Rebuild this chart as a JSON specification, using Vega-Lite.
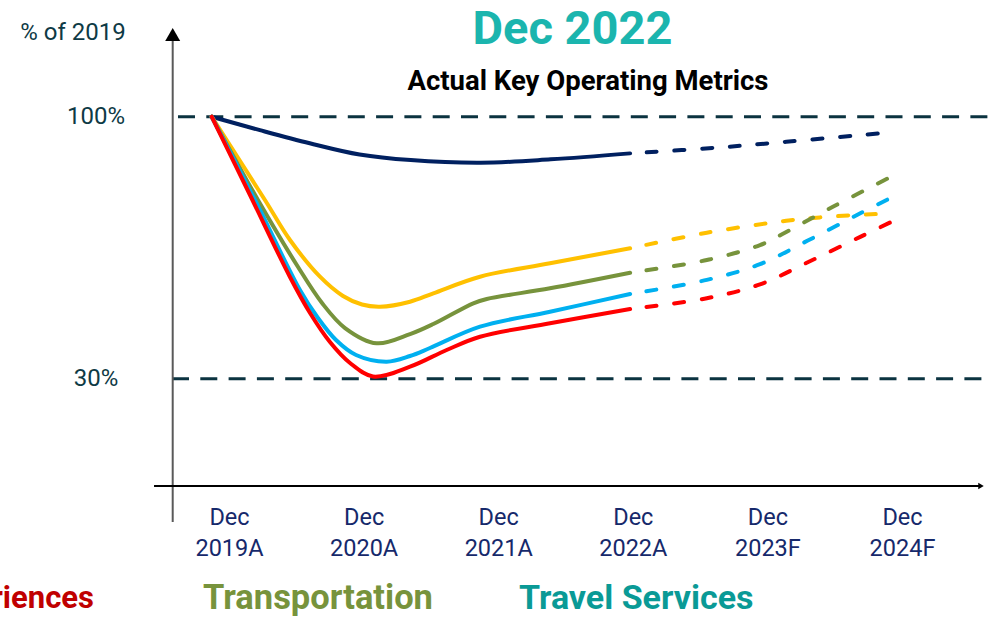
{
  "$schema": "https://vega.github.io/schema/vega-lite/v6.json",
  "width": 813,
  "height": 456,
  "autosize": {"type": "none"},
  "padding": {"left": 172, "top": 30, "right": 5, "bottom": 133},
  "config": {"view": {"stroke": null}, "font": "Roboto"},
  "datasets": {
    "refs": [
      {"x": 2018.621, "xe": 2024.66, "v": 100},
      {"x": 2018.5765, "xe": 2024.66, "v": 30}
    ],
    "yaxis": [{"x": 2018.5817, "v": 120.22, "ve": -8.29}],
    "xaxis": [{"x": 2018.443, "xe": 2024.572, "v": 1.333}],
    "uparrow": [{"x": 2018.5817, "v": 121.96}],
    "rightarrow": [{"x": 2024.587, "v": 1.333}],
    "lines": [
      {"series": "Metric A", "kind": "actual", "x": 2018.871, "v": 100},
      {"series": "Metric A", "kind": "actual", "x": 2019.23, "v": 96.4},
      {"series": "Metric A", "kind": "actual", "x": 2019.6, "v": 92.9},
      {"series": "Metric A", "kind": "actual", "x": 2019.97, "v": 89.9},
      {"series": "Metric A", "kind": "actual", "x": 2020.35, "v": 88.4},
      {"series": "Metric A", "kind": "actual", "x": 2020.87, "v": 87.7},
      {"series": "Metric A", "kind": "actual", "x": 2021.39, "v": 88.6},
      {"series": "Metric A", "kind": "actual", "x": 2021.98, "v": 90.2},
      {"series": "Metric A", "kind": "forecast", "x": 2021.98, "v": 90.2},
      {"series": "Metric A", "kind": "forecast", "x": 2022.65, "v": 91.8},
      {"series": "Metric A", "kind": "forecast", "x": 2023.14, "v": 93.3},
      {"series": "Metric A", "kind": "forecast", "x": 2023.82, "v": 95.5},

      {"series": "Metric B", "kind": "actual", "x": 2018.871, "v": 100},
      {"series": "Metric B", "kind": "actual", "x": 2019.267, "v": 77.74},
      {"series": "Metric B", "kind": "actual", "x": 2019.453, "v": 67.06},
      {"series": "Metric B", "kind": "actual", "x": 2019.676, "v": 57.25},
      {"series": "Metric B", "kind": "actual", "x": 2019.847, "v": 52.1},
      {"series": "Metric B", "kind": "actual", "x": 2019.988, "v": 49.82},
      {"series": "Metric B", "kind": "actual", "x": 2020.122, "v": 49.24},
      {"series": "Metric B", "kind": "actual", "x": 2020.345, "v": 50.57},
      {"series": "Metric B", "kind": "actual", "x": 2020.518, "v": 52.82},
      {"series": "Metric B", "kind": "actual", "x": 2020.865, "v": 57.25},
      {"series": "Metric B", "kind": "actual", "x": 2021.385, "v": 60.83},
      {"series": "Metric B", "kind": "actual", "x": 2021.98, "v": 64.84},
      {"series": "Metric B", "kind": "forecast", "x": 2021.98, "v": 64.84},
      {"series": "Metric B", "kind": "forecast", "x": 2022.55, "v": 69.0},
      {"series": "Metric B", "kind": "forecast", "x": 2023.14, "v": 72.2},
      {"series": "Metric B", "kind": "forecast", "x": 2023.39, "v": 73.1},
      {"series": "Metric B", "kind": "forecast", "x": 2023.64, "v": 73.7},
      {"series": "Metric B", "kind": "forecast", "x": 2023.82, "v": 74.0},

      {"series": "Transportation", "kind": "actual", "x": 2018.871, "v": 100},
      {"series": "Transportation", "kind": "actual", "x": 2019.215, "v": 77.74},
      {"series": "Transportation", "kind": "actual", "x": 2019.513, "v": 59.84},
      {"series": "Transportation", "kind": "actual", "x": 2019.691, "v": 50.22},
      {"series": "Transportation", "kind": "actual", "x": 2019.862, "v": 43.54},
      {"series": "Transportation", "kind": "actual", "x": 2020.097, "v": 39.46},
      {"series": "Transportation", "kind": "actual", "x": 2020.345, "v": 41.9},
      {"series": "Transportation", "kind": "actual", "x": 2020.518, "v": 44.6},
      {"series": "Transportation", "kind": "actual", "x": 2020.815, "v": 50.15},
      {"series": "Transportation", "kind": "actual", "x": 2020.915, "v": 51.29},
      {"series": "Transportation", "kind": "actual", "x": 2021.385, "v": 54.15},
      {"series": "Transportation", "kind": "actual", "x": 2021.98, "v": 58.32},
      {"series": "Transportation", "kind": "forecast", "x": 2021.98, "v": 58.32},
      {"series": "Transportation", "kind": "forecast", "x": 2022.55, "v": 61.7},
      {"series": "Transportation", "kind": "forecast", "x": 2022.945, "v": 65.7},
      {"series": "Transportation", "kind": "forecast", "x": 2023.13, "v": 69.0},
      {"series": "Transportation", "kind": "forecast", "x": 2023.49, "v": 76.0},
      {"series": "Transportation", "kind": "forecast", "x": 2023.91, "v": 83.8},

      {"series": "Metric C", "kind": "actual", "x": 2018.871, "v": 100},
      {"series": "Metric C", "kind": "actual", "x": 2019.193, "v": 77.74},
      {"series": "Metric C", "kind": "actual", "x": 2019.527, "v": 53.7},
      {"series": "Metric C", "kind": "actual", "x": 2019.661, "v": 46.22},
      {"series": "Metric C", "kind": "actual", "x": 2019.795, "v": 40.34},
      {"series": "Metric C", "kind": "actual", "x": 2019.944, "v": 36.33},
      {"series": "Metric C", "kind": "actual", "x": 2020.172, "v": 34.54},
      {"series": "Metric C", "kind": "actual", "x": 2020.345, "v": 36.06},
      {"series": "Metric C", "kind": "actual", "x": 2020.493, "v": 38.2},
      {"series": "Metric C", "kind": "actual", "x": 2020.865, "v": 43.89},
      {"series": "Metric C", "kind": "actual", "x": 2021.385, "v": 47.9},
      {"series": "Metric C", "kind": "actual", "x": 2021.98, "v": 52.63},
      {"series": "Metric C", "kind": "forecast", "x": 2021.98, "v": 52.63},
      {"series": "Metric C", "kind": "forecast", "x": 2022.55, "v": 56.4},
      {"series": "Metric C", "kind": "forecast", "x": 2022.945, "v": 60.6},
      {"series": "Metric C", "kind": "forecast", "x": 2023.3, "v": 66.9},
      {"series": "Metric C", "kind": "forecast", "x": 2023.69, "v": 74.2},
      {"series": "Metric C", "kind": "forecast", "x": 2023.91, "v": 78.2},

      {"series": "Experiences", "kind": "actual", "x": 2018.871, "v": 100},
      {"series": "Experiences", "kind": "actual", "x": 2019.156, "v": 79.08},
      {"series": "Experiences", "kind": "actual", "x": 2019.453, "v": 57.18},
      {"series": "Experiences", "kind": "actual", "x": 2019.602, "v": 47.56},
      {"series": "Experiences", "kind": "actual", "x": 2019.75, "v": 39.81},
      {"series": "Experiences", "kind": "actual", "x": 2019.899, "v": 34.2},
      {"series": "Experiences", "kind": "actual", "x": 2020.07, "v": 30.59},
      {"series": "Experiences", "kind": "actual", "x": 2020.345, "v": 33.21},
      {"series": "Experiences", "kind": "actual", "x": 2020.617, "v": 37.67},
      {"series": "Experiences", "kind": "actual", "x": 2020.865, "v": 41.22},
      {"series": "Experiences", "kind": "actual", "x": 2021.385, "v": 44.8},
      {"series": "Experiences", "kind": "actual", "x": 2021.98, "v": 48.62},
      {"series": "Experiences", "kind": "forecast", "x": 2021.98, "v": 48.62},
      {"series": "Experiences", "kind": "forecast", "x": 2022.55, "v": 51.5},
      {"series": "Experiences", "kind": "forecast", "x": 2022.945, "v": 55.2},
      {"series": "Experiences", "kind": "forecast", "x": 2023.3, "v": 61.1},
      {"series": "Experiences", "kind": "forecast", "x": 2023.69, "v": 67.9},
      {"series": "Experiences", "kind": "forecast", "x": 2023.91, "v": 71.7}
    ],
    "texts": [
      {"role": "ylabel", "x": 2017.841, "v": 122.28, "text": "% of 2019"},
      {"role": "title", "x": 2021.552, "v": 123.06, "text": "Dec 2022"},
      {"role": "subtitle", "x": 2021.667, "v": 109.3, "text": "Actual Key Operating Metrics"},
      {"role": "exp", "x": 2017.997, "v": -28.8, "text": "Experiences"},
      {"role": "trans", "x": 2018.807, "v": -28.8, "text": "Transportation"},
      {"role": "travel", "x": 2021.155, "v": -28.8, "text": "Travel Services"}
    ]
  },
  "encoding": {
    "x": {
      "field": "x", "type": "quantitative",
      "scale": {"domain": [2018.5765, 2024.6166], "nice": false, "zero": false},
      "axis": {
        "values": [2019, 2020, 2021, 2022, 2023, 2024],
        "labelExpr": "['Dec', datum.value + (datum.value <= 2022 ? 'A' : 'F')]",
        "title": null, "domain": false, "ticks": false, "tickSize": 0, "grid": false,
        "labelPadding": 19, "labelFontSize": 23.5, "labelColor": "#16296b",
        "labelLineHeight": 31, "labelFont": "Roboto", "labelOverlap": false, "labelFlush": false
      }
    },
    "y": {
      "field": "v", "type": "quantitative",
      "scale": {"domain": [1.333, 123.164], "nice": false, "zero": false},
      "axis": {
        "values": [30, 100],
        "labelExpr": "datum.value + '%'",
        "title": null, "domain": false, "ticks": false, "tickSize": 0, "grid": false,
        "labelAlign": "center", "labelPadding": 76.5, "labelFontSize": 24,
        "labelColor": "#0e3a45", "labelFont": "Roboto", "labelOverlap": false, "labelFlush": false
      }
    }
  },
  "layer": [
    {
      "data": {"name": "refs"},
      "mark": {"type": "rule", "strokeDash": [17, 11.3], "strokeWidth": 3, "color": "#0b3340"},
      "encoding": {"x2": {"field": "xe"}}
    },
    {
      "data": {"name": "yaxis"},
      "mark": {"type": "rule", "strokeWidth": 2, "color": "#595959"},
      "encoding": {"y2": {"field": "ve"}}
    },
    {
      "data": {"name": "xaxis"},
      "mark": {"type": "rule", "strokeWidth": 2, "color": "#000000"},
      "encoding": {"x2": {"field": "xe"}}
    },
    {
      "data": {"name": "uparrow"},
      "mark": {"type": "point", "shape": "triangle-up", "size": 225, "filled": true, "color": "#000000", "opacity": 1}
    },
    {
      "data": {"name": "rightarrow"},
      "mark": {"type": "point", "shape": "triangle-right", "size": 40, "filled": true, "color": "#000000", "opacity": 1}
    },
    {
      "data": {"name": "lines"},
      "transform": [{"filter": "datum.kind == 'actual'"}],
      "mark": {"type": "line", "strokeWidth": 4, "interpolate": "catmull-rom", "strokeCap": "round"},
      "encoding": {
        "color": {
          "field": "series", "type": "nominal", "legend": null,
          "scale": {
            "domain": ["Metric A", "Metric B", "Transportation", "Metric C", "Experiences"],
            "range": ["#002060", "#FFC000", "#77933C", "#00B0F0", "#FF0000"]
          }
        }
      }
    },
    {
      "data": {"name": "lines"},
      "transform": [{"filter": "datum.kind == 'forecast'"}],
      "mark": {"type": "line", "strokeWidth": 4, "interpolate": "catmull-rom", "strokeCap": "round", "strokeDash": [10, 17.7], "strokeDashOffset": 11},
      "encoding": {
        "color": {
          "field": "series", "type": "nominal", "legend": null,
          "scale": {
            "domain": ["Metric A", "Metric B", "Transportation", "Metric C", "Experiences"],
            "range": ["#002060", "#FFC000", "#77933C", "#00B0F0", "#FF0000"]
          }
        }
      }
    },
    {
      "data": {"name": "texts"},
      "transform": [{"filter": "datum.role == 'ylabel'"}],
      "mark": {"type": "text", "fontSize": 24, "color": "#0e3a45", "align": "center", "baseline": "middle", "font": "Roboto"},
      "encoding": {"text": {"field": "text"}}
    },
    {
      "data": {"name": "texts"},
      "transform": [{"filter": "datum.role == 'title'"}],
      "mark": {"type": "text", "fontSize": 47, "fontWeight": "bold", "color": "#1bb5ae", "align": "center", "baseline": "middle", "font": "Roboto"},
      "encoding": {"text": {"field": "text"}}
    },
    {
      "data": {"name": "texts"},
      "transform": [{"filter": "datum.role == 'subtitle'"}],
      "mark": {"type": "text", "fontSize": 27.5, "fontWeight": "bold", "color": "#000000", "align": "center", "baseline": "middle", "font": "Roboto"},
      "encoding": {"text": {"field": "text"}}
    },
    {
      "data": {"name": "texts"},
      "transform": [{"filter": "datum.role == 'exp'"}],
      "mark": {"type": "text", "fontSize": 31, "fontWeight": "bold", "color": "#C00000", "align": "right", "baseline": "middle", "font": "Roboto"},
      "encoding": {"text": {"field": "text"}}
    },
    {
      "data": {"name": "texts"},
      "transform": [{"filter": "datum.role == 'trans'"}],
      "mark": {"type": "text", "fontSize": 34.5, "fontWeight": "bold", "color": "#77933C", "align": "left", "baseline": "middle", "font": "Roboto"},
      "encoding": {"text": {"field": "text"}}
    },
    {
      "data": {"name": "texts"},
      "transform": [{"filter": "datum.role == 'travel'"}],
      "mark": {"type": "text", "fontSize": 34, "fontWeight": "bold", "color": "#0A9A96", "align": "left", "baseline": "middle", "font": "Roboto"},
      "encoding": {"text": {"field": "text"}}
    }
  ]
}
